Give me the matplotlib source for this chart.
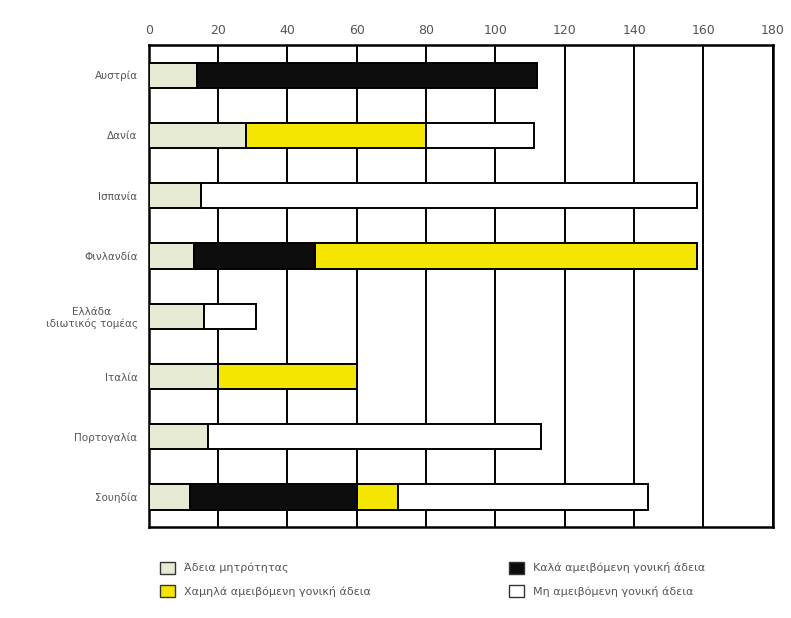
import matplotlib.pyplot as plt
from matplotlib.patches import Patch
import numpy as np

# data
countries = ['Αυστρία', 'Δανία', 'Ισπανία', 'Φινλανδία',
             'Ελλάδα\nιδιωτικός τομέας', 'Ιταλία', 'Πορτογαλία', 'Σουηδία']
maternity = [14, 28, 15, 13, 16, 20, 17, 12]
well_paid = [98, 0, 0, 35, 0, 0, 0, 48]
low_paid = [0, 52, 0, 110, 0, 40, 0, 12]
unpaid = [0, 31, 143, 0, 15, 0, 96, 72]

labels = ['Άδεια μητρότητας', 'Χαμηλά αμειβόμενη γονική άδεια',
          'Καλά αμειβόμενη γονική άδεια', 'Μη αμειβόμενη γονική άδεια']
xticks = [0, 20, 40, 60, 80, 100, 120, 140, 160, 180]

c_mat = '#e6ead3'
c_low = '#f4e600'
c_high = '#0d0d0d'
c_unp = '#ffffff'
txt = '#555555'

fig = plt.figure(figsize=(7.91, 6.18), dpi=100)
ax = fig.add_axes([0.188, 0.147, 0.789, 0.78])

y = np.arange(len(countries))
h = 0.42
kw = dict(height=h, edgecolor='black', linewidth=1.4, zorder=3)

left = np.zeros(len(countries))
b_mat = ax.barh(y, maternity, left=left, color=c_mat, **kw)
left += maternity
b_high = ax.barh(y, well_paid, left=left, color=c_high, **kw)
left += well_paid
b_low = ax.barh(y, low_paid, left=left, color=c_low, **kw)
left += low_paid
b_unp = ax.barh(y, unpaid, left=left, color=c_unp, **kw)

# hide zero-width pieces so they don't leave stray outlines
for bars, vals in [(b_high, well_paid), (b_low, low_paid), (b_unp, unpaid)]:
    for b, v in zip(bars, vals):
        if v == 0:
            b.set_visible(False)

ax.set_xlim(0, 180)
ax.set_ylim(len(countries) - 0.5, -0.5)
ax.set_xticks(xticks)
ax.xaxis.tick_top()
ax.tick_params(axis='x', length=0, pad=6, labelsize=9, labelcolor=txt)
ax.set_yticks(y)
ax.set_yticklabels(countries, fontsize=7.5, color=txt, multialignment='center')
ax.tick_params(axis='y', length=0, pad=8)

ax.grid(axis='x', color='black', linewidth=1.4, zorder=1)
for s in ax.spines.values():
    s.set_linewidth(1.8)

# legend: columns read maternity / low paid | well paid / unpaid
colors = [c_mat, c_low, c_high, c_unp]
handles = [Patch(facecolor=c, edgecolor='#333333', linewidth=1.0) for c in colors]
leg = fig.legend(handles, labels, loc='lower left', bbox_to_anchor=(0.19, 0.018),
                 ncol=2, frameon=False, fontsize=8, handlelength=1.3,
                 handleheight=1.3, columnspacing=12.5, labelspacing=1.0)
for t in leg.get_texts():
    t.set_color(txt)

plt.savefig('out.png', dpi=100)
